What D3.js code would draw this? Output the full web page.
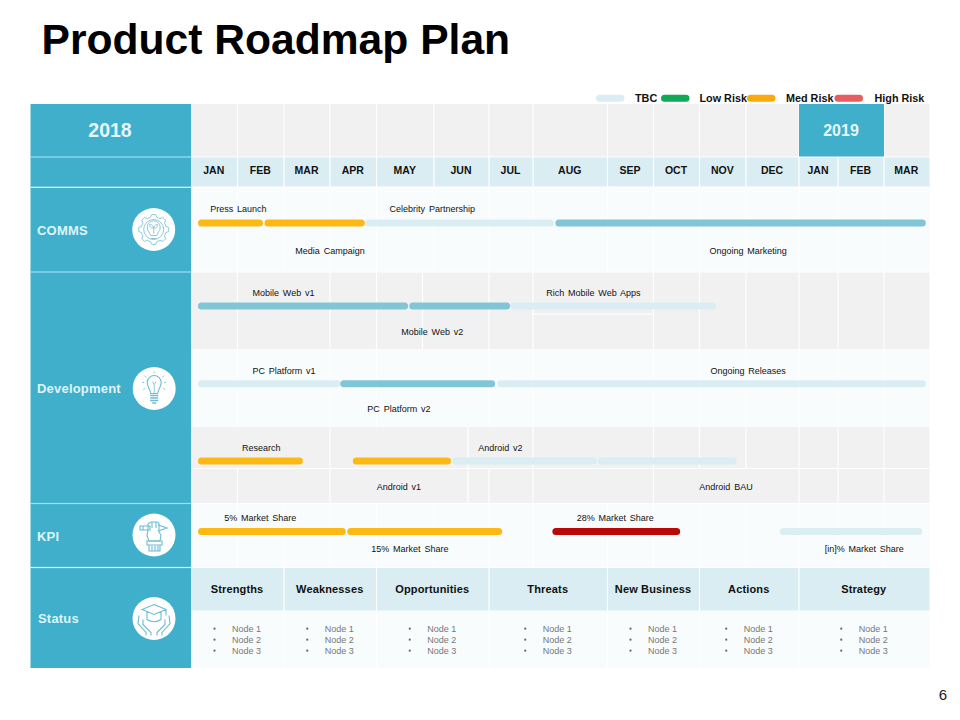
<!DOCTYPE html>
<html>
<head>
<meta charset="utf-8">
<script src="https://cdn.jsdelivr.net/npm/d3@7"></script>
<style>
  html, body { margin: 0; padding: 0; background: #fff; }
  svg { display: block; }
  text { font-family: "Liberation Sans", Arial, sans-serif; }
</style>
</head>
<body>
<div class="canvas"></div>
<script>
//chart data, task times are in months counted from start of JAN 2018
const months = ['JAN','FEB','MAR','APR','MAY','JUN','JUL','AUG','SEP','OCT','NOV','DEC','JAN','FEB','MAR'];

const taskNames = ['Press Launch','Media Campaign','Celebrity Partnership','Ongoing Marketing',
    'Mobile Web v1','Mobile Web v2','Rich Mobile Web Apps',
    'PC Platform v1','PC Platform v2','Ongoing Releases',
    'Research','Android v1','Android v2','Android BAU',
    '5% Market Share','15% Market Share','28% Market Share','[in]% Market Share'];
const taskLane = ['comms','comms','comms','comms','mobile','mobile','mobile','pc','pc','pc',
    'android','android','android','android','kpi','kpi','kpi','kpi'];
const taskStart = [0.15,1.58,3.75,7.30, 0.15,4.57,6.48, 0.15,3.22,6.19, 0.15,3.49,5.33,7.87, 0.15,3.37,7.26,11.64];
const taskEnd = [1.55,3.75,7.28,14.92, 4.55,6.48,10.35, 3.22,6.14,14.92, 2.41,5.31,7.86,10.80, 3.34,6.30,9.58,14.84];
const taskRisk = ['med','med','tbc','base', 'base','base','tbc', 'tbc','base','tbc',
    'med','med','tbc','tbc', 'med','med','high','tbc'];
const taskLabelAt = [1.02,3.00,4.97,11.04, 1.99,4.97,7.81, 2.00,4.39,11.04, 1.51,4.39,6.26,10.57, 1.49,4.58,8.17,13.57];
const taskLabelSide = ['up','down','up','down', 'up','down','up', 'up','down','up',
    'up','down','up','down', 'up','down','up','down'];

const legendNames = ['TBC','Low Risk','Med Risk','High Risk'];
const legendRisks = ['tbc','low','med','high'];

const statusNames = ['Strengths','Weaknesses','Opportunities','Threats','New Business','Actions','Strategy'];
const statusStart = [0,2,4,6,8,10,12];
const statusEnd = [2,4,6,8,10,12,15];
const statusNodes = ['Node 1','Node 2','Node 3'];

//chart dimensions
const dims = { width: 960, height: 720, left: 30.5, panel: 191 };

//month columns are not equal width on the slide so use a piecewise scale
const monthEdges = [191,237.5,284,330,376.5,434,489,533,607.5,653.5,699.5,746,799,838,884,929.5];
const x = d3.scaleLinear().domain(d3.range(16)).range(monthEdges);

const riskColor = d3.scaleOrdinal()
    .domain(['tbc','base','low','med','high'])
    .range(['#daedf3','#80c6d7','#10a957','#fdb913','#b80808']);
const legendColor = d3.scaleOrdinal()
    .domain(legendRisks)
    .range(['#daedf3','#10a957','#fca90e','#e85d5d']);

//lane y positions: bar centre, label offsets
const laneY = d3.scaleOrdinal().domain(['comms','mobile','pc','android','kpi']).range([223,306,383.7,461,531.5]);
const laneUp = d3.scaleOrdinal().domain(laneY.domain()).range([-14,-13,-12.5,-13.3,-14]);
const laneDown = d3.scaleOrdinal().domain(laneY.domain()).range([28,25.7,25.2,25.7,17.2]);

const teal = '#40afcb';
const ink = '#6cbcd2';

const svg = d3.select('.canvas')
    .append('svg')
    .attr('width', dims.width)
    .attr('height', dims.height);

//title and page number
svg.append('text').attr('x', 41.5).attr('y', 54)
    .attr('font-size', 42.6).attr('font-weight', 700).attr('fill', '#000')
    .text('Product Roadmap Plan');
svg.append('text').attr('x', 943).attr('y', 700).attr('text-anchor', 'middle')
    .attr('font-size', 15).attr('fill', '#222').text('6');

//background bands
const bands = [
    { y0: 104, y1: 156.5, fill: '#f1f1f1' },
    { y0: 157.5, y1: 186.5, fill: '#d9edf3' },
    { y0: 188, y1: 271.5, fill: '#f8fcfd' },
    { y0: 272.5, y1: 349, fill: '#f1f1f1' },
    { y0: 349, y1: 427, fill: '#f8fcfd' },
    { y0: 427, y1: 503, fill: '#f1f1f1' },
    { y0: 504, y1: 567, fill: '#f8fcfd' },
    { y0: 568, y1: 610.5, fill: '#d9edf3' },
    { y0: 611, y1: 668, fill: '#f8fcfd' }
];
svg.append('g').selectAll('rect').data(bands).enter().append('rect')
    .attr('x', x(0)).attr('width', x(15) - x(0))
    .attr('y', d => d.y0).attr('height', d => d.y1 - d.y0)
    .attr('fill', d => d.fill);

//white grid lines, each block has its own set of columns
const grid = [
    { y0: 104, y1: 187, at: d3.range(1, 15) },
    { y0: 188, y1: 271, at: d3.range(1, 15) },
    { y0: 272.5, y1: 349, at: [1,3,4,4.8,6,7,9,10,11,12,13,14] },
    { y0: 349, y1: 427, at: [1,3,4,6,7,9,10,11,12,13,14] },
    { y0: 427, y1: 468, at: [3,5.62,7,9,10,11,12,13,14] },
    { y0: 469, y1: 503, at: [1,3,5.62,6,7,9,12,13,14] },
    { y0: 504, y1: 567, at: d3.range(1, 15) },
    { y0: 568, y1: 668, at: [2,4,6,8,10,12] }
];
grid.forEach(g => {
    svg.append('g').selectAll('line').data(g.at).enter().append('line')
        .attr('x1', d => x(d)).attr('x2', d => x(d))
        .attr('y1', g.y0).attr('y2', g.y1)
        .attr('stroke', '#fff').attr('stroke-width', 1.2);
});
//odd horizontal rules on the slide
svg.append('line').attr('x1', x(0)).attr('x2', x(15)).attr('y1', 468.5).attr('y2', 468.5)
    .attr('stroke', '#fff').attr('stroke-width', 1.2);
svg.append('line').attr('x1', x(7)).attr('x2', x(9)).attr('y1', 314).attr('y2', 314)
    .attr('stroke', '#fff').attr('stroke-width', 1.2);

//left panel
svg.append('rect').attr('x', dims.left).attr('y', 104)
    .attr('width', dims.panel - dims.left).attr('height', 564).attr('fill', teal);
const panelRules = [{ y: 157, c: '#9fe0f0' }, { y: 187.3, c: '#e8f8fb' }, { y: 272, c: '#9fe0f0' },
    { y: 503.5, c: '#9fe0f0' }, { y: 567.5, c: '#e8f8fb' }];
svg.append('g').selectAll('rect').data(panelRules).enter().append('rect')
    .attr('x', dims.left).attr('width', x(0) - dims.left)
    .attr('y', d => d.y - 0.6).attr('height', 1.2).attr('fill', d => d.c);

const yearColor = '#e6f7fb';
svg.append('text').attr('x', 110).attr('y', 137).attr('text-anchor', 'middle')
    .attr('font-size', 19.5).attr('font-weight', 700).attr('fill', yearColor).text('2018');
svg.append('rect').attr('x', x(12)).attr('y', 104)
    .attr('width', x(14) - x(12)).attr('height', 52.5).attr('fill', teal);
svg.append('text').attr('x', 841).attr('y', 135.8).attr('text-anchor', 'middle')
    .attr('font-size', 16).attr('font-weight', 700).attr('fill', yearColor).text('2019');

const panelLabels = [
    { t: 'COMMS', y: 234.5, x: 37 },
    { t: 'Development', y: 392.8, x: 37 },
    { t: 'KPI', y: 540.5, x: 37 },
    { t: 'Status', y: 623, x: 38 }
];
svg.append('g').selectAll('text').data(panelLabels).enter().append('text')
    .attr('x', d => d.x).attr('y', d => d.y)
    .attr('font-size', 13).attr('font-weight', 700).attr('letter-spacing', 0.2)
    .attr('fill', '#dff5fa').text(d => d.t);

//month axis
const monthAxis = d3.axisBottom(x)
    .tickValues(d3.range(15).map(i => i + 0.5))
    .tickFormat(d => months[Math.floor(d)])
    .tickSize(0).tickPadding(0).offset(0);
const axisG = svg.append('g').attr('transform', 'translate(-0.5,167)').call(monthAxis);
axisG.select('.domain').remove();
axisG.selectAll('text')
    .attr('font-family', '"Liberation Sans", Arial, sans-serif')
    .attr('font-size', 10.5).attr('font-weight', 700).attr('fill', '#111');

//task bars
const tasks = taskNames.map((name, i) => ({
    name, lane: taskLane[i], start: taskStart[i], end: taskEnd[i],
    risk: taskRisk[i], at: taskLabelAt[i], side: taskLabelSide[i]
}));
const barH = 7;
svg.append('g').selectAll('rect').data(tasks).enter().append('rect')
    .attr('x', d => x(d.start))
    .attr('width', d => x(d.end) - x(d.start))
    .attr('y', d => laneY(d.lane) - barH / 2)
    .attr('height', barH)
    .attr('rx', 3.5)
    .attr('fill', d => riskColor(d.risk));
svg.append('g').selectAll('text').data(tasks).enter().append('text')
    .attr('x', d => x(d.at))
    .attr('y', d => laneY(d.lane) + (d.side === 'up' ? laneUp(d.lane) : laneDown(d.lane)) + 0.7)
    .attr('text-anchor', 'middle').attr('font-size', 9).attr('fill', '#111')
    .attr('dominant-baseline', 'middle')
    .attr('word-spacing', 1.3)
    .text(d => d.name);

//legend
const legendSwatchX = d3.scaleOrdinal().domain(legendRisks).range([596, 661, 747, 834.5]);
const legendTextX = d3.scaleOrdinal().domain(legendRisks).range([635, 699.5, 786, 874.5]);
const legend = svg.append('g').selectAll('g').data(legendNames).enter().append('g');
legend.append('rect')
    .attr('x', (d, i) => legendSwatchX(legendRisks[i])).attr('y', 94.8)
    .attr('width', 28.5).attr('height', 7).attr('rx', 3.5)
    .attr('fill', (d, i) => legendColor(legendRisks[i]));
legend.append('text')
    .attr('x', (d, i) => legendTextX(legendRisks[i])).attr('y', 102)
    .attr('font-size', 10.8).attr('font-weight', 700).attr('fill', '#111')
    .text(d => d);

//status columns
const status = svg.append('g').selectAll('g').data(statusNames).enter().append('g')
    .attr('transform', (d, i) => `translate(${(x(statusStart[i]) + x(statusEnd[i])) / 2},0)`);
status.append('text').attr('x', -0.5).attr('y', 593).attr('text-anchor', 'middle')
    .attr('font-size', 11).attr('font-weight', 700).attr('letter-spacing', 0.15).attr('fill', '#111')
    .text(d => d);
statusNodes.forEach((n, i) => {
    status.append('circle').attr('cx', -23).attr('cy', 628.7 + i * 11).attr('r', 1.1).attr('fill', '#666');
    status.append('text').attr('x', -5.5).attr('y', 632 + i * 11)
        .attr('font-size', 9).attr('fill', '#777').text(n);
});

//icons, drawn by hand in a box around the circle centre
const iconAt = [[153.7, 229.5], [154.2, 388.5], [154, 535], [154, 618.5]];
const icons = iconAt.map(p => {
    const g = svg.append('g').attr('transform', `translate(${p[0]},${p[1]})`);
    g.append('circle').attr('r', 21.5).attr('fill', '#fff');
    return g.append('g').attr('fill', 'none').attr('stroke', ink).attr('stroke-width', 0.8);
});

//gear with a bulb
const gearPts = d3.range(48).map(i => {
    const a = i / 48 * 2 * Math.PI, r = (i + 1) % 6 < 3 ? 15 : 12.5;
    return [r * Math.sin(a), -r * Math.cos(a)];
});
icons[0].append('path').attr('d', d3.line().curve(d3.curveLinearClosed)(gearPts));
icons[0].append('circle').attr('r', 10);
icons[0].append('path').attr('d', 'M-5 2 A6.5 6.5 0 1 1 5 2 L3 6 H-3 Z M-2.5 9 H2.5 M0 4 V-2 M0 -2 C-1 -5 -3 -5 -4 -5 C-4 -2 -2 -1 0 -2 M0 -2 C1 -5 3 -5 4 -5 C4 -2 2 -1 0 -2');

//light bulb
icons[1].append('path').attr('stroke-width', 1.1)
    .attr('d', 'M-3.5 5 C-3.5 1 -7 -1 -7 -6 A7 7 0 1 1 7 -6 C7 -1 3.5 1 3.5 5 Z');
icons[1].append('path').attr('d', 'M-2 -7 L0 -4 L2 -7 M0 -4 V5');
icons[1].append('path').attr('stroke-width', 1.6).attr('d', 'M-4 7 H4 M-4 9.5 H4 M-4 12 H4 M-2 14.5 H2');
icons[1].append('path').attr('d', 'M-10 -13 L-8 -11 M10 -13 L8 -11 M-12 -6 H-10 M12 -6 H10 M-11 1 L-9 0 M11 1 L9 0 M0 -17 V-15');

//fist holding a pencil
icons[2].append('path').attr('stroke-width', 1.1)
    .attr('d', 'M-14 -9 H-4 V-5 H-14 Z M-11 -9 V-5 M4 -10 L13 -7 L4 -4');
icons[2].append('path').attr('stroke-width', 1.1)
    .attr('d', 'M-6 -5 V-11 L-3 -13 H3 L5 -12 V-3 L7 0 L6 6 H-5 L-7 1 Z M-2 -13 V-7 M2 -13 V-7');
icons[2].append('path').attr('stroke-width', 1.1)
    .attr('d', 'M-7 6 H8 V10 H-7 Z M-5 10 V16 H6 V10 M-2 11 V16 M1 11 V16 M4 11 V16');

//graduation cap held in two hands
icons[3].append('path').attr('stroke-width', 1.1)
    .attr('d', 'M0 -14 L12 -9 L0 -4 L-12 -9 Z M-7 -7 V1 C-3 4 3 4 7 1 V-7 M12 -9 V-3');
icons[3].append('path').attr('stroke-width', 1.1)
    .attr('d', 'M-15 -3 L-16 5 L-8 14 V17 M-11 1 L-11 6 L-3 14 V17 M15 -3 L16 5 L8 14 V17 M11 1 L11 6 L3 14 V17');
</script>
</body>
</html>
